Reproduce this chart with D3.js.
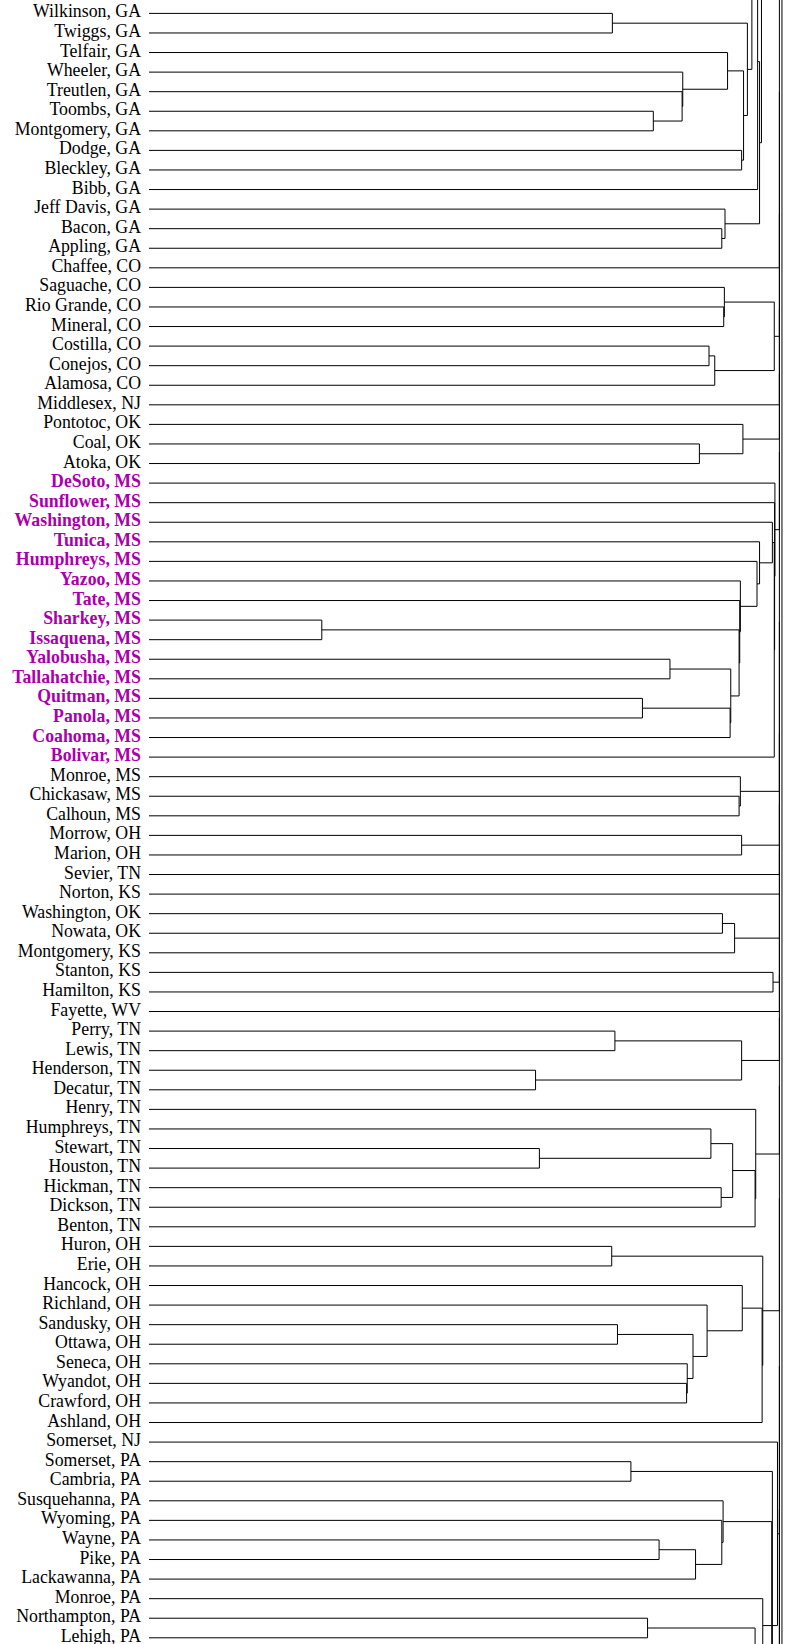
<!DOCTYPE html>
<html>
<head>
<meta charset="utf-8">
<script src="https://cdn.jsdelivr.net/npm/d3@7/dist/d3.min.js"></script>
<style>
  html, body { margin: 0; padding: 0; background: #fff; }
  svg { display: block; overflow: hidden; }
</style>
</head>
<body>
<svg id="chart" width="787" height="1644"></svg>
<script>
// ---- Leaf labels (top to bottom) ----
const leafLabels = [
  "Wilkinson, GA","Twiggs, GA","Telfair, GA","Wheeler, GA","Treutlen, GA","Toombs, GA","Montgomery, GA",
  "Dodge, GA","Bleckley, GA","Bibb, GA","Jeff Davis, GA","Bacon, GA","Appling, GA",
  "Chaffee, CO","Saguache, CO","Rio Grande, CO","Mineral, CO","Costilla, CO","Conejos, CO","Alamosa, CO",
  "Middlesex, NJ","Pontotoc, OK","Coal, OK","Atoka, OK",
  "DeSoto, MS","Sunflower, MS","Washington, MS","Tunica, MS","Humphreys, MS","Yazoo, MS","Tate, MS",
  "Sharkey, MS","Issaquena, MS","Yalobusha, MS","Tallahatchie, MS","Quitman, MS","Panola, MS","Coahoma, MS","Bolivar, MS",
  "Monroe, MS","Chickasaw, MS","Calhoun, MS","Morrow, OH","Marion, OH","Sevier, TN","Norton, KS",
  "Washington, OK","Nowata, OK","Montgomery, KS","Stanton, KS","Hamilton, KS","Fayette, WV",
  "Perry, TN","Lewis, TN","Henderson, TN","Decatur, TN","Henry, TN","Humphreys, TN","Stewart, TN","Houston, TN",
  "Hickman, TN","Dickson, TN","Benton, TN",
  "Huron, OH","Erie, OH","Hancock, OH","Richland, OH","Sandusky, OH","Ottawa, OH","Seneca, OH","Wyandot, OH",
  "Crawford, OH","Ashland, OH","Somerset, NJ",
  "Somerset, PA","Cambria, PA","Susquehanna, PA","Wyoming, PA","Wayne, PA","Pike, PA","Lackawanna, PA",
  "Monroe, PA","Northampton, PA","Lehigh, PA"
];

// Highlighted leaves (bold magenta)
const highlightedLabels = [
  "DeSoto, MS","Sunflower, MS","Washington, MS","Tunica, MS","Humphreys, MS","Yazoo, MS","Tate, MS",
  "Sharkey, MS","Issaquena, MS","Yalobusha, MS","Tallahatchie, MS","Quitman, MS","Panola, MS","Coahoma, MS","Bolivar, MS"
];

// Leaves of the tree that lie outside the visible window (row positions)
const offscreenLeaves = [["~t1", -11], ["~t2", -20], ["~t3", -30], ["~t4", -5], ["~b1", 85], ["~b2", 109], ["~b3", 130]];

// Merges: [id, childA, childB, merge height]
const merges = [
  ["g1","Wilkinson, GA","Twiggs, GA",0.724],
  ["g2","Toombs, GA","Montgomery, GA",0.788],
  ["g3","Treutlen, GA","g2",0.833],
  ["g4","Wheeler, GA","g3",0.834],
  ["g5","Telfair, GA","g4",0.904],
  ["g6","Dodge, GA","Bleckley, GA",0.926],
  ["g7","g5","g6",0.929],
  ["g8","g1","g7",0.935],
  ["g9","~t1","g8",0.942],
  ["g10","g9","Bibb, GA",0.951],
  ["g11","Bacon, GA","Appling, GA",0.895],
  ["g12","Jeff Davis, GA","g11",0.900],
  ["g13","g10","g12",0.954],
  ["g14","~t2","g13",0.957],
  ["g15","g14","~t3",0.970],
  ["c1","Rio Grande, CO","Mineral, CO",0.898],
  ["c2","Saguache, CO","c1",0.899],
  ["c3","Costilla, CO","Conejos, CO",0.875],
  ["c4","c3","Alamosa, CO",0.884],
  ["c5","c2","c4",0.977],
  ["o1","Coal, OK","Atoka, OK",0.860],
  ["o2","Pontotoc, OK","o1",0.928],
  ["s1","Sharkey, MS","Issaquena, MS",0.270],
  ["s2","Yalobusha, MS","Tallahatchie, MS",0.814],
  ["s3","Quitman, MS","Panola, MS",0.771],
  ["s4","s3","Coahoma, MS",0.908],
  ["s5","s2","s4",0.909],
  ["s6","s1","s5",0.922],
  ["s7","Tate, MS","s6",0.923],
  ["s8","Yazoo, MS","s7",0.924],
  ["s9","Humphreys, MS","s8",0.950],
  ["s10","Tunica, MS","s9",0.954],
  ["s11","Washington, MS","s10",0.974],
  ["s12","s11","Bolivar, MS",0.977],
  ["s13","Sunflower, MS","s12",0.9775],
  ["s14","DeSoto, MS","s13",0.978],
  ["m1","Chickasaw, MS","Calhoun, MS",0.922],
  ["m2","Monroe, MS","m1",0.924],
  ["h1","Morrow, OH","Marion, OH",0.926],
  ["k1","Washington, OK","Nowata, OK",0.896],
  ["k2","k1","Montgomery, KS",0.915],
  ["k3","Stanton, KS","Hamilton, KS",0.975],
  ["t1","Perry, TN","Lewis, TN",0.728],
  ["t2","Henderson, TN","Decatur, TN",0.604],
  ["t3","t1","t2",0.926],
  ["t4","Stewart, TN","Houston, TN",0.610],
  ["t5","Humphreys, TN","t4",0.878],
  ["t6","Hickman, TN","Dickson, TN",0.894],
  ["t7","t5","t6",0.912],
  ["t8","t7","Benton, TN",0.947],
  ["t9","Henry, TN","t8",0.948],
  ["e1","Huron, OH","Erie, OH",0.723],
  ["e2","Sandusky, OH","Ottawa, OH",0.732],
  ["e3","Wyandot, OH","Crawford, OH",0.840],
  ["e4","Seneca, OH","e3",0.841],
  ["e5","e2","e4",0.850],
  ["e6","Richland, OH","e5",0.872],
  ["e7","Hancock, OH","e6",0.927],
  ["e8","e7","Ashland, OH",0.958],
  ["e9","e1","e8",0.959],
  ["p1","Somerset, PA","Cambria, PA",0.753],
  ["p2","Wayne, PA","Pike, PA",0.797],
  ["p3","p2","Lackawanna, PA",0.854],
  ["p4","Wyoming, PA","p3",0.895],
  ["p5","Susquehanna, PA","p4",0.897],
  ["p6","Northampton, PA","Lehigh, PA",0.779],
  ["p7","p6","~b1",0.947],
  ["p8","Monroe, PA","p7",0.959],
  ["p9","Somerset, NJ","p8",0.982],
  ["p10","p5","~b2",0.973],
  ["p11","p1","p10",0.974],
  ["r1","~t4","Chaffee, CO",0.985],
  ["r2","r1","c5",0.985],
  ["r3","r2","Middlesex, NJ",0.985],
  ["r4","r3","o2",0.985],
  ["r5","r4","s14",0.985],
  ["r6","r5","m2",0.985],
  ["r7","r6","h1",0.985],
  ["r8","r7","Sevier, TN",0.985],
  ["r9","r8","Norton, KS",0.985],
  ["r10","r9","k2",0.985],
  ["r11","r10","k3",0.985],
  ["r12","r11","Fayette, WV",0.985],
  ["r13","r12","t3",0.985],
  ["r14","r13","t9",0.985],
  ["r15","r14","e9",0.985],
  ["r16","r15","p9",0.985],
  ["r17","r16","p11",0.985],
  ["r18","r17","~b3",0.985],
  ["root","g15","r18",0.989]
];

// ---- Build tree ----
const nodes = new Map();
leafLabels.forEach((name, i) => nodes.set(name, { name, height: 0, row: i, visible: true }));
offscreenLeaves.forEach(([name, row]) => nodes.set(name, { name, height: 0, row, visible: false }));
merges.forEach(([id, a, b, h]) => nodes.set(id, { name: id, height: h, children: [nodes.get(a), nodes.get(b)] }));
const root = d3.hierarchy(nodes.get("root"));

const W = 787, H = 1644;
const x = d3.scaleLinear().domain([0, 1]).range([149, 789]);
const y = d3.scaleLinear().domain([0, leafLabels.length - 1]).range([13.4, 1637.8]);

root.eachAfter(n => {
  n.px = x(n.data.height);
  n.py = n.children ? d3.mean(n.children, c => c.py) : y(n.data.row);
});

const svg = d3.select("#chart");
const g = svg.append("g");

// Links (elbows)
const links = [];
root.each(n => {
  if (!n.children) return;
  const [a, b] = n.children;
  links.push(`M${a.px},${a.py}H${n.px}V${b.py}H${b.px}`);
});
g.selectAll("path.link").data(links).join("path")
  .attr("class", "link")
  .attr("d", d => d)
  .attr("fill", "none")
  .attr("stroke", "#000")
  .attr("stroke-width", 1);

// Labels
const hl = new Set(highlightedLabels);
const leaves = root.leaves().filter(l => l.data.visible);
g.selectAll("text.lab").data(leaves).join("text")
  .attr("class", "lab")
  .attr("x", 141)
  .attr("y", d => d.py + 4)
  .attr("text-anchor", "end")
  .attr("font-family", "'Liberation Serif', 'Times New Roman', Times, serif")
  .attr("font-size", 17.8)
  .attr("font-weight", d => hl.has(d.data.name) ? "bold" : "normal")
  .attr("fill", d => hl.has(d.data.name) ? "#aa00aa" : "#000")
  .text(d => d.data.name);
</script>
</body>
</html>
